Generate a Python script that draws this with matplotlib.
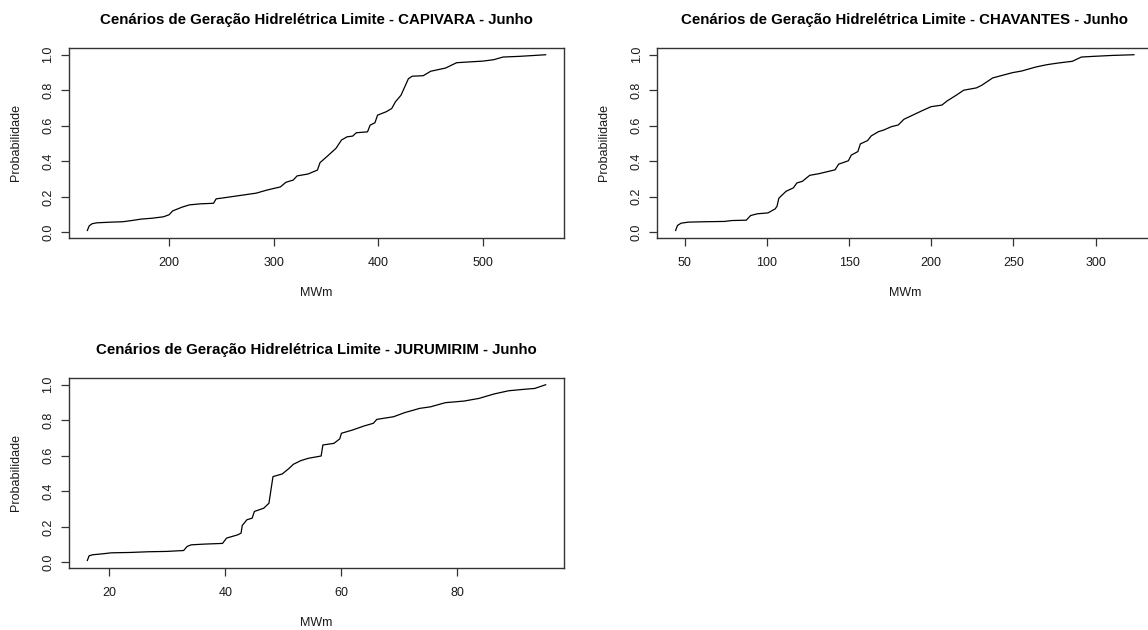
import matplotlib
matplotlib.use("Agg")
import matplotlib.pyplot as plt

plt.rcParams['font.family'] = ['Liberation Sans', 'DejaVu Sans']

titles = [
    "Cenários de Geração Hidrelétrica Limite - CAPIVARA - Junho",
    "Cenários de Geração Hidrelétrica Limite - CHAVANTES - Junho",
    "Cenários de Geração Hidrelétrica Limite - JURUMIRIM - Junho",
]
xlabel = "MWm"
ylabel = "Probabilidade"

capivara_mw = [121.9, 123.7, 126.5, 130.8, 145.0, 155.6, 164.5, 173.4, 184.0, 194.7,
               200.0, 203.5, 212.4, 219.5, 230.2, 242.6, 245.1, 251.5, 265.7, 283.4,
               294.1, 306.5, 311.8, 318.9, 322.5, 333.1, 342.0, 344.5, 350.9, 359.7,
               365.0, 370.3, 375.7, 379.2, 389.9, 392.4, 397.0, 399.5, 407.7, 413.0,
               416.6, 421.9, 425.5, 429.0, 432.6, 443.2, 450.3, 464.5, 475.1, 485.8,
               500.0, 510.6, 519.5, 535.5, 549.7, 560.3]
capivara_p = [0.011, 0.037, 0.049, 0.054, 0.058, 0.060, 0.067, 0.075, 0.080, 0.088,
              0.099, 0.121, 0.142, 0.155, 0.161, 0.164, 0.189, 0.194, 0.206, 0.221,
              0.239, 0.256, 0.282, 0.295, 0.318, 0.329, 0.351, 0.393, 0.426, 0.473,
              0.520, 0.538, 0.542, 0.561, 0.566, 0.604, 0.617, 0.660, 0.679, 0.697,
              0.735, 0.772, 0.819, 0.865, 0.879, 0.882, 0.907, 0.925, 0.955, 0.959,
              0.964, 0.972, 0.987, 0.991, 0.996, 1.000]

chavantes_mw = [44.5, 45.6, 47.8, 52.2, 61.0, 74.3, 78.7, 87.5, 90.1, 94.1,
                100.7, 105.1, 106.2, 107.3, 111.7, 116.1, 118.3, 121.6, 126.1, 131.6,
                141.5, 143.7, 149.6, 151.4, 155.4, 156.9, 161.3, 163.5, 167.9, 171.3,
                175.7, 180.0, 183.4, 188.9, 194.4, 199.9, 206.5, 209.8, 215.3, 219.8,
                227.5, 230.8, 237.4, 241.8, 249.5, 255.0, 263.8, 270.5, 277.1, 285.9,
                291.4, 299.1, 310.1, 323.4]
chavantes_p = [0.009, 0.037, 0.050, 0.056, 0.058, 0.060, 0.065, 0.067, 0.093, 0.103,
               0.108, 0.131, 0.146, 0.191, 0.230, 0.249, 0.277, 0.286, 0.320, 0.329,
               0.351, 0.383, 0.402, 0.434, 0.454, 0.497, 0.516, 0.542, 0.566, 0.576,
               0.594, 0.604, 0.636, 0.660, 0.684, 0.707, 0.716, 0.740, 0.772, 0.800,
               0.813, 0.828, 0.869, 0.880, 0.899, 0.908, 0.931, 0.944, 0.953, 0.963,
               0.987, 0.991, 0.996, 1.000]

jurumirim_mw = [16.2, 16.5, 17.1, 19.0, 20.3, 23.5, 26.7, 29.9, 32.8, 33.4,
                34.1, 36.3, 39.5, 40.2, 42.1, 42.7, 42.9, 43.7, 44.6, 45.0,
                46.6, 47.5, 48.2, 49.8, 51.0, 51.7, 53.0, 54.3, 56.5, 56.8,
                58.7, 59.7, 60.0, 61.9, 63.9, 65.5, 66.1, 69.0, 70.9, 73.5,
                75.4, 77.9, 81.1, 83.7, 86.3, 88.8, 91.4, 93.3, 95.2]
jurumirim_p = [0.011, 0.037, 0.043, 0.049, 0.054, 0.056, 0.060, 0.062, 0.067, 0.090,
               0.099, 0.103, 0.107, 0.137, 0.155, 0.165, 0.208, 0.240, 0.249, 0.287,
               0.305, 0.333, 0.483, 0.498, 0.530, 0.552, 0.573, 0.586, 0.599, 0.661,
               0.670, 0.695, 0.727, 0.745, 0.768, 0.783, 0.805, 0.820, 0.843, 0.867,
               0.876, 0.899, 0.908, 0.923, 0.948, 0.966, 0.974, 0.979, 1.000]

x_ticks = [[200, 300, 400, 500], [50, 100, 150, 200, 250, 300], [20, 40, 60, 80]]
y_ticks = [0.0, 0.2, 0.4, 0.6, 0.8, 1.0]
y_ticklabels = ["0.0", "0.2", "0.4", "0.6", "0.8", "1.0"]

series = [(capivara_mw, capivara_p), (chavantes_mw, chavantes_p), (jurumirim_mw, jurumirim_p)]

W, H = 1148, 630
fig = plt.figure(figsize=(W / 100, H / 100), dpi=100)
fig.patch.set_facecolor("white")

# axes boxes in pixels: (left, top, right, bottom)
boxes = [(69, 47.7, 564, 237.5), (657.3, 47.7, 1152.3, 237.5), (69, 377.7, 564, 567.5)]

txt_col = "#1a1a1a"
for i, (x, y) in enumerate(series):
    l, t, r, b = boxes[i]
    ax = fig.add_axes([l / W, 1 - b / H, (r - l) / W, (b - t) / H])
    ax.plot(x, y, color="black", lw=0.9)
    ax.margins(x=0.04, y=0.04)
    ax.set_xticks(x_ticks[i])
    ax.set_xticklabels([str(v) for v in x_ticks[i]])
    ax.set_yticks(y_ticks)
    ax.set_yticklabels(y_ticklabels, rotation=90, va="center")
    ax.tick_params(axis="both", direction="out", length=5.5, width=0.9,
                   colors="#333333", labelcolor=txt_col, labelsize=9)
    ax.tick_params(axis="x", pad=8.5)
    ax.tick_params(axis="y", pad=5)
    for s in ax.spines.values():
        s.set_color("#333333")
        s.set_linewidth(1.0)
    ax.set_title(titles[i], fontsize=10.85, fontweight="bold", pad=17, color="black")
    ax.set_xlabel(xlabel, fontsize=9, color=txt_col, va="center")
    ax.xaxis.set_label_coords(0.5, -55 / (b - t))
    ax.set_ylabel(ylabel, fontsize=9, color=txt_col, va="center", ha="center")
    ax.yaxis.set_label_coords(-53 / (r - l), 0.5)

fig.savefig("out.png", dpi=100, facecolor="white")
